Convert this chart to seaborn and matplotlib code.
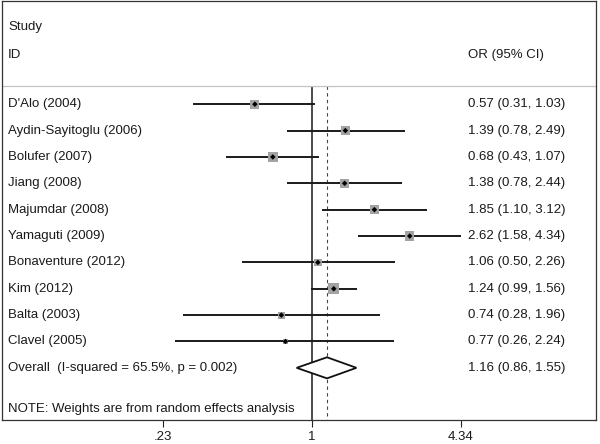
import numpy as np
import matplotlib
matplotlib.use("Agg")
import matplotlib.pyplot as plt
import matplotlib.transforms as mtransforms
import seaborn as sns
import pandas as pd

sns.set_theme(style="white")
plt.rcParams['font.family'] = ['Liberation Sans', 'DejaVu Sans']

# 데이터
studies = ["D'Alo (2004)", "Aydin-Sayitoglu (2006)", "Bolufer (2007)", "Jiang (2008)",
           "Majumdar (2008)", "Yamaguti (2009)", "Bonaventure (2012)", "Kim (2012)",
           "Balta (2003)", "Clavel (2005)"]
odds = [0.57, 1.39, 0.68, 1.38, 1.85, 2.62, 1.06, 1.24, 0.74, 0.77]
lower = [0.31, 0.78, 0.43, 0.78, 1.10, 1.58, 0.50, 0.99, 0.28, 0.26]
upper = [1.03, 2.49, 1.07, 2.44, 3.12, 4.34, 2.26, 1.56, 1.96, 2.24]
weights = [9.8, 10.5, 11.0, 10.5, 10.2, 10.0, 7.0, 14.0, 6.0, 4.0]  # 추정치 (박스 크기)

overall_label = "Overall  (I-squared = 65.5%, p = 0.002)"
overall = [1.16, 0.86, 1.55]
note = "NOTE: Weights are from random effects analysis"
xticks = [0.23, 1, 4.34]
xticklabels = [".23", "1", "4.34"]

df = pd.DataFrame({'study': studies, 'or': odds, 'lo': lower, 'hi': upper, 'w': weights})
df['row'] = np.arange(len(df))
n = len(df)

fig = plt.figure(figsize=(6, 4.44), dpi=100)
ax = fig.add_axes([0.0033, 0.054, 0.99, 0.944])
ax.set_xscale('log')
ax.set_xlim(0.0472, 16.41)
ax.set_ylim(11.98, -3.92)

# 신뢰구간
ax.hlines(df['row'], df['lo'], df['hi'], color='#1a1a1a', lw=1.4, zorder=2)

# 가중치 박스
wmin, wmax = min(weights), max(weights)
sns.scatterplot(data=df, x='or', y='row', size='w', sizes=(4.3 * wmin, 4.3 * wmax),
                marker='s', color='#a3a3a3', edgecolor='none', linewidth=0,
                legend=False, ax=ax, zorder=3)
sns.scatterplot(data=df, x='or', y='row', marker='D', s=8, color='black',
                edgecolor='none', legend=False, ax=ax, zorder=4)

# 기준선
header_y = -0.68
ax.vlines(1, header_y, 11.98, color='#1a1a1a', lw=1.1, zorder=1)
ax.vlines(overall[0], header_y, 11.98, color='#444444', lw=0.8,
          linestyles=(0, (3, 3)), zorder=1)
ax.axhline(header_y, color='#c4c4c4', lw=0.9)

# 다이아몬드
est, lo, hi = overall
ax.fill([lo, est, hi, est, lo], [n, n - 0.4, n, n + 0.4, n],
        facecolor='white', edgecolor='#111111', lw=1.3, zorder=3)

# 텍스트
trans = mtransforms.blended_transform_factory(ax.transAxes, ax.transData)
fs = 9.5
tc = '#1a1a1a'
ax.text(0.0101, -2.93, "Study", transform=trans, fontsize=fs, va='center', color=tc)
ax.text(0.0101, -1.86, "ID", transform=trans, fontsize=fs, va='center', color=tc)
ax.text(0.784, -1.86, "OR (95% CI)", transform=trans, fontsize=fs, va='center', color=tc)
for r, s, o, l, h in zip(df['row'], studies, odds, lower, upper):
    ax.text(0.0101, r, s, transform=trans, fontsize=fs, va='center', color=tc)
    ax.text(0.784, r, f"{o:.2f} ({l:.2f}, {h:.2f})", transform=trans, fontsize=fs,
            va='center', color=tc)
ax.text(0.0101, n, overall_label, transform=trans, fontsize=fs, va='center', color=tc)
ax.text(0.784, n, f"{est:.2f} ({lo:.2f}, {hi:.2f})", transform=trans, fontsize=fs,
        va='center', color=tc)
ax.text(0.0101, 11.56, note, transform=trans, fontsize=fs, va='center', color=tc)

# 축
ax.set_xticks(xticks)
ax.set_xticklabels(xticklabels, fontsize=fs, color=tc)
ax.xaxis.set_minor_locator(matplotlib.ticker.NullLocator())
ax.tick_params(axis='x', bottom=True, length=5, width=0.8, color='#222222', pad=3)
ax.set_yticks([])
ax.set_xlabel('')
ax.set_ylabel('')
for sp in ax.spines.values():
    sp.set_visible(True)
    sp.set_color('#333333')
    sp.set_linewidth(0.9)

fig.savefig('out.png', dpi=100)
